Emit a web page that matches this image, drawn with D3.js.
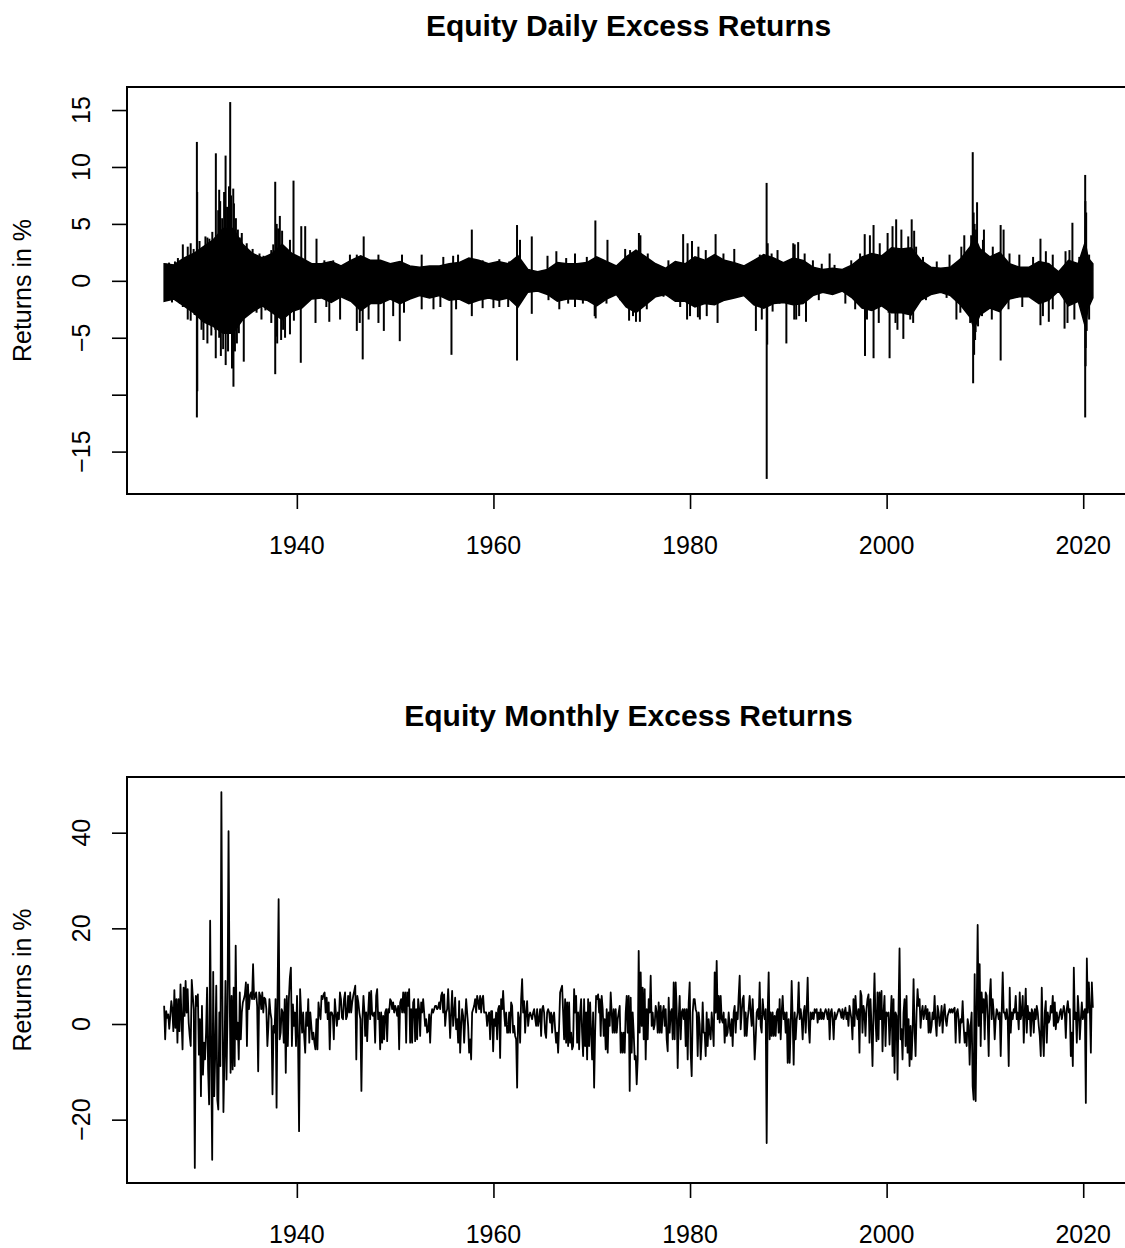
<!DOCTYPE html>
<html>
<head>
<meta charset="utf-8">
<script src="https://cdn.jsdelivr.net/npm/d3@7/dist/d3.min.js"></script>
<style>
  body { margin: 0; background: #fff; }
  text { font-family: "Liberation Sans", Arial, Helvetica, sans-serif; fill: #000; }
</style>
</head>
<body>
<div id="chart"></div>
<script>
// ---- axis ticks ----
const yearTicks = [1940, 1960, 1980, 2000, 2020];
const dailyTicks = [-15, -10, -5, 0, 5, 10, 15];
const dailyTickLabels = ["\u221215", "", "\u22125", "0", "5", "10", "15"];
const monthlyTicks = [-20, 0, 20, 40];
const monthlyTickLabels = ["\u221220", "0", "20", "40"];

// ---- daily returns: solid core of the band (upper / lower per year) ----
const dailyYear = [
  1926.5, 1927.5, 1928.5, 1929.5,
  1930.5, 1931.5, 1932.5, 1933.5, 1934.5, 1935.5, 1936.5, 1937.5, 1938.5, 1939.5,
  1940.5, 1941.5, 1942.5, 1943.5, 1944.5, 1945.5, 1946.5, 1947.5, 1948.5, 1949.5,
  1950.5, 1951.5, 1952.5, 1953.5, 1954.5, 1955.5, 1956.5, 1957.5, 1958.5, 1959.5,
  1960.5, 1961.5, 1962.5, 1963.5, 1964.5, 1965.5, 1966.5, 1967.5, 1968.5, 1969.5,
  1970.5, 1971.5, 1972.5, 1973.5, 1974.5, 1975.5, 1976.5, 1977.5, 1978.5, 1979.5,
  1980.5, 1981.5, 1982.5, 1983.5, 1984.5, 1985.5, 1986.5, 1987.5, 1988.5, 1989.5,
  1990.5, 1991.5, 1992.5, 1993.5, 1994.5, 1995.5, 1996.5, 1997.5, 1998.5, 1999.5,
  2000.5, 2001.5, 2002.5, 2003.5, 2004.5, 2005.5, 2006.5, 2007.5, 2008.5, 2008.9, 2009.5,
  2010.5, 2011.5, 2012.5, 2013.5, 2014.5, 2015.5, 2016.5, 2017.5, 2018.5, 2019.5,
  2020.2, 2020.5, 2020.98
];
const dailyUpper = [
  1.5, 1.4, 2.0, 2.4,
  3.0, 3.6, 4.6, 4.6, 3.2, 2.4, 2.0, 2.4, 3.2, 2.4,
  2.0, 1.5, 1.5, 1.7, 1.3, 1.8, 2.2, 1.8, 1.8, 1.5,
  1.7, 1.3, 1.2, 1.3, 1.3, 1.5, 1.6, 2.0, 1.8, 1.5,
  1.7, 1.5, 2.2, 1.0, 0.8, 1.0, 1.6, 1.5, 1.5, 1.6,
  2.1, 1.7, 1.3, 2.1, 2.7, 2.1, 1.5, 1.1, 1.7, 1.5,
  2.1, 1.8, 2.3, 1.8, 1.6, 1.3, 1.8, 2.3, 2.0, 1.6,
  2.0, 1.8, 1.2, 1.0, 1.1, 1.0, 1.4, 2.1, 2.4, 2.2,
  2.9, 2.8, 2.9, 1.8, 1.2, 1.1, 1.2, 1.9, 3.0, 4.0, 2.8,
  2.1, 2.5, 1.5, 1.2, 1.2, 1.7, 1.5, 0.8, 1.8, 1.5,
  3.4, 2.0, 1.5
];
const dailyLower = [
  -1.8, -1.6, -2.2, -2.8,
  -3.6, -4.0, -4.6, -4.6, -3.4, -2.7, -2.2, -2.8, -3.4, -2.7,
  -2.4, -1.6, -1.5, -1.9, -1.4, -1.8, -2.6, -2.0, -2.0, -1.6,
  -2.0, -1.6, -1.3, -1.5, -1.3, -1.7, -1.6, -2.0, -1.7, -1.5,
  -1.7, -1.5, -2.3, -1.0, -0.9, -1.2, -1.8, -1.6, -1.6, -1.7,
  -2.2, -1.6, -1.2, -2.3, -2.8, -2.1, -1.4, -1.2, -1.8, -1.8,
  -2.3, -2.0, -2.1, -1.7, -1.5, -1.3, -2.1, -2.4, -2.0, -1.9,
  -2.1, -2.0, -1.3, -1.0, -1.2, -0.9, -1.5, -2.4, -2.6, -2.2,
  -2.8, -2.8, -3.0, -1.7, -1.2, -1.0, -1.3, -2.1, -3.2, -4.2, -3.0,
  -2.4, -2.7, -1.6, -1.4, -1.4, -2.0, -1.7, -0.9, -2.2, -1.8,
  -4.0, -2.4, -1.5
];

// ---- daily returns: single days sticking out of the band [year, return %] ----
const dailySpikes = [
  [1926.6, -1.7], [1926.7, 1.5], [1927.0, 1.6], [1927.3, -1.9], [1927.6, 1.7], [1927.9, 2.0], [1928.1, -2.0],
  [1928.4, 3.2], [1928.4, -2.3], [1928.9, 3.0], [1928.9, -3.4], [1929.2, 3.3], [1929.2, -3.5], [1929.5, 2.8],
  [1929.6, -3.0], [1929.83, 12.2], [1929.83, -12.0], [1929.86, 7.8], [1929.87, -9.7],
  [1930.1, 3.5], [1930.3, -4.3], [1930.5, -5.2], [1930.7, 3.9], [1930.9, 3.8], [1930.9, -5.5], [1931.1, 3.7],
  [1931.3, -4.8], [1931.4, 4.3], [1931.7, -4.3], [1931.76, 11.2], [1931.75, -6.8],
  [1932.0, 6.2], [1932.1, 8.0], [1932.1, -5.0], [1932.2, 7.0], [1932.27, -6.6], [1932.4, 5.5], [1932.5, -6.0],
  [1932.6, 7.8], [1932.75, 11.0], [1932.76, -7.4], [1932.9, 6.5], [1933.0, -6.2], [1933.1, 8.3],
  [1933.22, 15.7], [1933.3, 7.5], [1933.4, -7.7], [1933.53, 8.1], [1933.55, -9.3], [1933.6, 6.8], [1933.7, -6.2],
  [1933.8, 5.5], [1933.9, -5.5], [1934.0, 4.5], [1934.1, -4.6], [1934.2, 3.8],
  [1934.3, -3.4], [1934.4, 4.2], [1934.6, -7.1], [1934.9, 3.3], [1935.2, 2.6], [1935.2, -2.5], [1935.5, 2.8],
  [1935.7, -2.0], [1935.9, -2.8], [1936.2, 2.4], [1936.4, -3.4], [1936.6, 2.2], [1936.8, -2.6],
  [1937.4, 2.7], [1937.4, -3.7], [1937.6, 3.2], [1937.8, 8.7], [1937.8, -8.2], [1937.9, -4.9], [1937.95, 5.0],
  [1938.0, -5.5], [1938.1, 4.6], [1938.27, 5.7], [1938.4, -5.2], [1938.5, 4.4], [1938.6, -4.3], [1938.8, -5.0],
  [1939.0, 2.6], [1939.3, 3.6], [1939.3, -4.7], [1939.66, 8.8], [1939.7, -3.5],
  [1940.4, -7.2], [1940.45, 4.8], [1940.85, 4.8], [1941.9, -3.7], [1942.0, 3.7], [1942.8, 1.8], [1943.0, -2.3],
  [1943.3, -3.6], [1943.7, 1.8], [1944.4, -3.4], [1945.4, 2.3], [1946.1, 2.3], [1946.1, -4.4], [1946.4, -3.7],
  [1946.7, -6.9], [1946.8, 3.9], [1947.3, -3.4], [1948.3, 2.3], [1948.3, -3.7], [1948.85, -4.4], [1949.8, -3.1],
  [1950.47, -5.3], [1950.7, 2.3], [1950.9, -2.8], [1952.7, 2.3], [1952.7, -2.5], [1953.9, -2.5], [1954.6, -2.3],
  [1954.9, 2.1], [1955.73, -6.5], [1955.9, 2.2], [1956.2, -2.5], [1956.4, 2.3], [1956.8, -1.4],
  [1957.8, 4.5], [1957.8, -3.1], [1958.9, 1.8], [1958.9, -2.4], [1960.0, -2.4], [1960.6, 1.9], [1960.6, -2.3],
  [1961.5, -2.3], [1961.6, 1.7], [1962.4, 4.9], [1962.4, -7.0], [1962.7, 3.6], [1963.9, 3.9], [1963.9, -2.9],
  [1965.5, 2.2], [1965.6, -1.7], [1966.4, 2.6], [1966.7, -2.5], [1967.4, 2.0], [1967.6, -2.0], [1968.3, 2.4],
  [1968.3, -2.3], [1969.1, -2.0], [1969.5, 2.1], [1970.3, -3.1], [1970.37, 5.3], [1970.4, -3.3], [1971.5, -2.0],
  [1971.6, 3.6], [1972.9, -1.7], [1973.4, 2.8], [1973.8, -3.5], [1973.9, 2.7], [1974.2, -3.1], [1974.5, -3.6],
  [1974.8, 4.2], [1974.9, -3.6], [1974.95, 4.0], [1975.6, -2.5], [1975.7, 2.4], [1977.3, -1.4], [1977.8, 1.8],
  [1979.0, -2.3], [1979.3, 4.1], [1979.7, -3.4], [1979.75, 3.3], [1980.0, -3.1], [1980.2, 3.5], [1980.8, -3.2],
  [1980.85, 3.0], [1981.0, -3.4], [1981.6, 2.7], [1981.7, -3.1], [1982.6, 4.1], [1982.7, -2.0], [1982.8, -3.7],
  [1983.4, 2.4], [1984.0, -1.5], [1984.5, 2.8], [1985.7, -1.1], [1986.7, -4.4], [1987.1, 2.3], [1987.3, -3.4],
  [1987.79, 8.6], [1987.8, -17.4], [1987.85, -5.6], [1987.9, 3.3], [1988.3, 2.4], [1988.4, -2.7], [1988.9, 2.7],
  [1989.1, -2.0], [1989.8, -5.5], [1990.5, 3.3], [1990.6, -3.4], [1990.65, 3.2], [1990.8, -3.4], [1991.0, 3.4],
  [1991.1, -3.1], [1991.66, 2.4], [1991.8, -3.6], [1992.5, 1.8], [1993.1, -1.7], [1993.4, 1.5], [1994.2, 2.4],
  [1994.7, 1.4], [1995.8, -2.0], [1996.4, 1.8], [1996.8, -2.5], [1997.3, 2.4], [1997.77, 4.1], [1997.8, -6.6],
  [1998.0, -3.4], [1998.3, 4.0], [1998.67, 4.9], [1998.67, -6.8], [1999.2, -3.7], [1999.3, 3.3], [2000.1, 4.2],
  [2000.2, -2.8], [2000.3, -6.8], [2000.6, 4.8], [2000.9, -3.7], [2000.97, 5.4], [2001.1, -4.3], [2001.5, 4.5],
  [2001.7, -5.1], [2002.2, 3.9], [2002.4, -3.4], [2002.55, 5.4], [2002.7, -3.7], [2002.8, 4.4], [2003.0, 3.0],
  [2003.7, 2.1], [2004.0, -1.7], [2005.1, 1.7], [2006.1, -1.5], [2006.4, 2.3], [2007.1, -3.4], [2007.5, -2.8],
  [2007.6, 3.0], [2007.9, 4.0], [2008.5, -3.7], [2008.6, 4.0], [2008.76, 11.3], [2008.8, -9.0], [2008.85, 6.0],
  [2008.9, -6.5], [2008.95, 5.0], [2009.0, -5.2], [2009.05, -4.5], [2009.1, 4.5], [2009.2, 6.9], [2009.3, -4.0],
  [2009.7, -3.1], [2009.8, 3.6], [2009.9, 4.5], [2010.7, -3.4], [2010.8, 3.0], [2011.6, 4.9], [2011.6, -7.0],
  [2011.9, 4.5], [2012.4, -2.5], [2012.5, 2.4], [2013.5, 2.3], [2013.8, -2.3], [2014.9, 2.1], [2015.65, 3.7],
  [2015.65, -3.9], [2015.9, -3.1], [2016.2, 2.6], [2016.5, -3.6], [2016.9, 2.3], [2016.9, -2.5], [2018.1, -4.2],
  [2018.2, 2.6], [2018.4, -3.7], [2018.6, 2.7], [2018.9, 5.1], [2019.1, -3.4], [2019.6, 2.1], [2020.2, 9.3],
  [2020.2, -12.0], [2020.22, 7.0], [2020.24, -7.5], [2020.25, -5.9], [2020.27, 4.8], [2020.3, 6.0],
  [2020.35, -4.4], [2020.6, -3.4], [2020.6, 2.3]
];

// ---- monthly returns, read left to right in four stretches ----
const monthlySpans = [[1926.5, 1946.88], [1946.95, 1970.75], [1970.81, 1995.12], [1995.2, 2020.98]];
const monthly1926to1946 = [
  3.8, -3.2, 2.7, 1.3, 2.0, -1.0, 1.7, 4.8, 3.0, -1.5, 7.1, -0.8, 5.2,
  -3.9, 5.2, -1.5, 8.3, 1.0, -5.3, 7.6, 1.7, 9.0, 2.4,
  7.3, 0.3, -2.5, -4.6, 9.2, 5.9, 3.1, -30.1, 5.9, 3.8,
  6.2, -6.4, 1.0, -15.1, 3.8, -10.6, -3.9, -7.4, -1.8, 7.6,
  -9.5, -16.8, 21.6, -6.0, -28.4, 10.9, -15.1, -6.0, 8.0, -15.8,
  -17.9, 2.4, -8.8, 48.5, 5.9, -18.4, -6.7, 9.0, -11.6, 2.4,
  40.3, 8.0, -10.2, 5.9, -9.5, 7.6, -8.8, 16.4, -3.2, 0.3,
  -7.4, 6.6, -3.2, 2.4, 4.5, 5.2, 6.2, 8.7, -4.6, 8.3,
  3.1, 5.9, 6.6, 5.2, 12.5, 5.2, 5.9, 6.6, 3.8, -9.9,
  6.6, 5.9, 3.1, 6.6, 2.4, 5.5, 5.2, 3.1, -4.6, -0.4,
  5.2, 2.4, 1.0, -14.7, -0.4, -1.8, 5.2, -17.5, 6.6, 26.1,
  -3.2, -1.8, 3.1, 2.4, -3.9, 5.2, -10.2, 5.9, -4.6, 5.2,
  9.7, 11.8, -4.6, 4.1, -0.4, 2.4, -4.6, 5.9, -3.2, -22.4,
  7.3, 2.4, -1.8, 2.4, -2.5, -6.0, 2.4, -0.4, 5.2, -3.9,
  2.4, -0.4, -3.2, -1.8, -3.9, -5.3, 1.0, -5.3, 4.5, 2.4,
  1.0, 5.9, 5.2, 6.2, 6.6, 2.4, 5.5, 1.0, 4.5, -5.3,
  2.4, 2.4, 1.7, -3.2, 5.2, 2.4, -0.4, 2.4, 1.0, 6.6,
  5.2, 1.3, 1.0, 5.2, 6.6, 1.0, 1.7, 5.9, 2.4, 6.6,
  2.4, 4.5, 5.9, 6.9, 8.0, -7.4, 5.9, 4.5, 2.4, 1.0,
  -14.0, 1.0, 5.9, 2.4
];
const monthly1947to1970 = [
  -2.5, 2.4, -3.6, 2.4, 6.6, 1.0, 6.9, 2.0, 1.7, 2.4,
  -3.9, 5.9, 7.3, 1.0, 2.4, -5.3, 2.4, -3.9, 1.7, -3.2,
  2.4, 3.1, -3.6, 3.1, 2.4, 5.2, 4.8, 3.1, 4.5, 2.4,
  3.8, 3.1, 1.7, 3.8, -5.3, 4.5, 5.2, 2.4, 6.6, 2.4,
  6.6, -3.9, 6.6, 3.8, 7.3, -3.9, 3.1, -3.9, 4.5, 5.2,
  -3.6, 3.1, -3.2, 5.2, 3.1, -2.5, 4.5, 2.4, 5.2, 2.4,
  -0.4, 1.0, -1.8, -1.5, 2.0, -3.9, 1.7, 3.1, 2.4, 3.1,
  3.8, 3.8, 3.1, 3.4, 4.5, 3.1, 5.9, 6.6, 2.4, 6.2,
  -0.4, 2.4, 3.1, 7.3, 2.4, -2.9, 2.4, 6.9, -0.4, 2.4,
  5.5, -1.1, 1.0, -3.9, 4.8, -6.0, -0.4, 3.1, 1.7, -3.9,
  1.0, 5.2, 2.4, -0.4, -6.0, -3.2, -7.4, 2.4, 3.1, 3.8,
  5.2, 2.4, 5.9, 4.8, 3.1, 5.9, 2.4, 5.2, 5.9, 2.4,
  2.4, 2.4, -0.4, 1.7, 2.4, -3.2, 2.7, 2.7, -5.7, 1.0,
  -0.4, 2.4, -3.2, 3.1, 3.8, -7.1, 5.2, 3.1, 6.9, 2.4,
  -0.4, 2.4, -1.8, -1.8, 2.4, -1.8, 4.5, 3.8, -1.8, -0.4,
  -2.5, -3.2, -13.3, 2.4, 1.0, -3.9, 5.2, 9.4, 2.4, 4.8,
  -1.8, 2.4, 4.8, -0.4, 1.7, 2.4, 1.7, 1.0, 2.4, 3.1,
  1.3, -0.4, 3.1, -0.4, 1.0, 3.1, -2.5, 3.1, 3.8, 2.4,
  -1.8, -2.9, 2.4, 3.1, 2.4, 0.3, 2.4, -1.8, 1.7, 2.4,
  -1.1, -3.9, -1.8, -6.0, -0.4, 6.6, 7.3, 8.0, 2.4, -3.2,
  5.2, -3.9, 4.5, -4.6, 4.5, -3.9, -1.8, -5.3, -4.6, 7.3,
  2.4, 5.9, -3.9, 2.4, -5.3, 2.4, 5.2, -1.8, -6.7, 5.2,
  -4.6, 2.4, -7.4, 5.2, -4.6, 4.5, -1.8, -7.4, 2.4, -13.3,
  -1.8, 5.9, 5.2, 6.2, 2.4
];
const monthly1971to1995 = [
  5.2, -2.5, 5.9, 3.1, -2.5, 1.0, -5.3, 3.1, -6.0, 2.4,
  -0.4, 6.6, 2.4, -1.8, 3.1, -1.8, 3.1, -1.8, 1.0, 2.4,
  3.8, -6.0, -1.8, -6.0, -1.8, -6.0, 2.4, 5.9, -1.8, 5.9,
  -14.0, 5.5, -6.0, 2.4, -1.8, -7.4, -6.7, -12.6, -7.4, 15.3,
  -1.8, 10.8, -0.4, 7.6, -3.2, 7.3, -7.4, 3.1, -3.2, 5.2,
  2.4, 10.1, -0.4, 2.4, -1.1, -0.1, 3.8, 2.4, -1.8, 4.5,
  -1.8, 3.8, -1.8, 2.4, 3.8, -0.4, 3.1, -3.2, -5.7, 5.5,
  -1.8, 2.4, 3.1, -3.2, 8.7, -3.2, 8.7, 3.1, -9.2, 1.0,
  5.9, -3.2, 2.4, 3.1, 1.0, 3.1, -4.6, 3.1, -7.4, 4.5,
  8.7, -6.0, -10.9, 2.4, 5.2, 5.2, 3.1, 2.4, -6.7, 2.4,
  -0.1, -7.4, -3.2, 4.5, -1.8, -1.8, -6.7, 2.4, -4.6, 1.0,
  -1.8, -3.2, 2.4, -0.4, -4.6, 10.8, 2.4, 13.2, 1.0, 5.9,
  0.3, 5.9, 1.0, 0.3, 2.4, -3.9, 1.0, -2.5, -1.8, 2.4,
  -0.4, -2.5, 1.0, -4.6, 2.4, 3.8, -1.8, 2.4, 1.0, 5.9,
  10.1, -1.1, 2.4, 5.2, 5.9, -2.5, 2.4, -2.5, 1.0, 3.1,
  5.9, 2.4, -0.4, 5.2, -0.4, -7.4, -3.2, 2.4, 3.1, 1.0,
  8.7, -0.4, -1.8, 5.2, 2.4, 1.0, 3.1, -24.9, 2.4, 10.8,
  -3.2, 2.4, -2.5, 2.4, -2.5, 1.7, -2.5, 2.4, 3.1, -1.8,
  5.2, -3.2, 2.4, 5.9, 1.0, 2.4, -1.8, 2.4, -8.1, 1.0,
  -8.1, -0.4, 9.0, 1.0, -8.5, 2.4, -3.2, 1.0, 2.4, 8.7,
  1.0, 3.1, 1.0, -3.2, 2.4, 3.8, -1.8, 3.1, 9.7, -0.4,
  -3.9, 2.4, 1.0, 2.4, 1.0, 3.1, 2.4, 3.1, 0.3, 2.4,
  1.0, 3.1, 1.0, 2.4, 1.0, 2.4, 3.1, 2.4, 1.0, 3.1,
  -3.2, 2.4, 3.1, 1.0, -3.2, 2.4, 1.0, 1.7, 2.4, 3.1
];
const monthly1995to2020 = [
  3.1, 2.4, 1.3, 3.1, 1.0, 2.4, 3.4, 1.0, 2.4, -0.4,
  3.8, 2.4, 1.0, -3.2, 5.2, -0.4, 5.9, 2.4, 1.0, 3.1,
  -6.0, 6.9, 5.9, -1.8, 3.8, 2.4, -2.5, 3.1, 5.2, 6.2,
  -3.9, 5.2, -0.4, -8.8, 2.4, 10.6, 1.0, -3.6, 6.6, -3.2,
  6.6, 1.0, 6.9, -5.7, 2.4, 5.9, -4.6, 2.4, 1.7, 2.4,
  -4.3, 1.0, 5.9, -6.7, 5.2, -10.2, 2.4, 1.7, -11.6, 3.1,
  15.8, -3.2, -1.1, -7.4, 2.4, 5.2, -4.6, 5.9, -6.0, 1.0,
  -8.8, -0.4, -7.4, -1.8, 9.4, -1.1, -6.7, 2.4, 7.3, 3.8,
  5.2, -0.8, 2.4, 3.8, 1.0, 2.4, 3.8, 1.0, 3.1, -1.8,
  2.4, -1.8, -0.4, 2.4, 1.0, 5.9, 0.3, -2.5, 3.8, 2.4,
  -0.4, 1.0, 3.8, -1.8, 2.4, 4.1, 1.0, -0.4, 1.7, 2.4,
  3.1, 2.4, 3.1, 2.4, 3.1, 3.4, -3.9, 2.4, 3.1, 1.0,
  -3.9, 1.0, 0.3, 4.8, -0.4, -3.9, -1.8, -4.6, 1.0, -0.4,
  -8.5, -0.4, 2.4, -13.0, -15.8, 10.4, -16.1, 2.4, 20.7, -0.4,
  12.5, -4.6, 6.6, 2.4, 5.2, -3.2, 6.6, 5.9, 1.0, -6.7,
  5.9, 9.4, 1.0, 5.2, 2.4, -3.2, 1.0, 3.1, 2.4, 1.0,
  2.4, -6.7, 2.4, 10.8, 2.4, 2.4, 1.0, 3.1, 1.0, -8.8,
  7.6, -1.8, 2.4, 1.0, 3.1, 2.4, 5.9, 1.0, 2.4, -1.1,
  6.6, 1.0, 2.4, 5.9, -3.9, 2.4, 7.4, -1.8, 3.8, 1.0,
  2.4, -2.5, 3.1, 2.4, -1.8, 3.1, 1.0, 3.8, 2.4, -0.4,
  -2.5, -6.7, 7.6, -1.8, -6.7, 2.4, 4.8, -3.9, 2.4, 0.3,
  1.0, 3.8, 2.4, 5.9, -0.4, 4.5, -1.1, 2.4, 0.3, 1.0,
  2.4, 3.1, 1.0, 2.4, 3.8, 2.4, -2.9, 3.1, 4.8, 2.4,
  3.1, -6.7, -1.8, -8.8, 11.8, 1.0, 2.4, -3.9, 5.9, 2.4,
  -3.2, 1.0, 4.5, 1.0, 2.4, 3.1, -16.5, 13.7, 2.4, 8.7,
  3.1, -6.0, 8.7, 3.4
];

// ---- layout (base R look) ----
const W = 1125, H = 1248;
const left = 127, right = 1130;   // right edge of the box falls just outside the picture
const panels = [
  { title: "Equity Daily Excess Returns", top: 87, bottom: 494, ticks: dailyTicks, labels: dailyTickLabels },
  { title: "Equity Monthly Excess Returns", top: 777, bottom: 1183, ticks: monthlyTicks, labels: monthlyTickLabels }
];

const svg = d3.select("#chart").append("svg")
  .attr("width", W).attr("height", H)
  .attr("viewBox", `0 0 ${W} ${H}`);
svg.append("rect").attr("width", W).attr("height", H).attr("fill", "#fff");

// monthly points: readings spread evenly over each stretch
const monthly = [];
[monthly1926to1946, monthly1947to1970, monthly1971to1995, monthly1995to2020].forEach((vals, k) => {
  const [a, b] = monthlySpans[k];
  vals.forEach((v, i) => monthly.push([a + (b - a) * i / (vals.length - 1), v]));
});

// R style 4% padding on each side
function pad(ext) {
  const d = (ext[1] - ext[0]) * 0.04;
  return [ext[0] - d, ext[1] + d];
}
const xDomain = pad(d3.extent(monthly, d => d[0]));
const x = d3.scaleLinear().domain(xDomain).range([left, right]);

const dailyExt = [
  d3.min([d3.min(dailyLower), d3.min(dailySpikes, d => d[1])]),
  d3.max([d3.max(dailyUpper), d3.max(dailySpikes, d => d[1])])
];
const yDaily = d3.scaleLinear().domain(pad(dailyExt)).range([panels[0].bottom, panels[0].top]);
const yMonthly = d3.scaleLinear().domain(pad(d3.extent(monthly, d => d[1]))).range([panels[1].bottom, panels[1].top]);
const yScales = [yDaily, yMonthly];

function drawFrame(p, y) {
  const g = svg.append("g");
  const mid = (left + right) / 2;

  g.append("text")
    .attr("x", mid).attr("y", p.top - 51)
    .attr("text-anchor", "middle")
    .style("font-size", "30px").style("font-weight", "bold")
    .text(p.title);

  // y axis
  const yAxis = g.append("g").attr("transform", `translate(${left},0)`)
    .call(d3.axisLeft(y).tickValues(p.ticks).tickSize(15).tickFormat(""));
  yAxis.select(".domain").remove();
  yAxis.selectAll("line").attr("stroke", "#000").attr("stroke-width", 1.6);
  p.ticks.forEach((t, i) => {
    if (!p.labels[i]) return;
    g.append("text")
      .attr("transform", `translate(90,${y(t)}) rotate(-90)`)
      .attr("text-anchor", "middle")
      .style("font-size", "25px")
      .text(p.labels[i]);
  });
  g.append("text")
    .attr("transform", `translate(31,${(p.top + p.bottom) / 2}) rotate(-90)`)
    .attr("text-anchor", "middle")
    .style("font-size", "25px")
    .text("Returns in %");

  // x axis
  const xAxis = g.append("g").attr("transform", `translate(0,${p.bottom})`)
    .call(d3.axisBottom(x).tickValues(yearTicks).tickSize(15).tickFormat(""));
  xAxis.select(".domain").remove();
  xAxis.selectAll("line").attr("stroke", "#000").attr("stroke-width", 1.6);
  yearTicks.forEach(t => {
    g.append("text")
      .attr("x", x(t)).attr("y", p.bottom + 60)
      .attr("text-anchor", "middle")
      .style("font-size", "25px")
      .text(t);
  });

  // box
  g.append("rect")
    .attr("x", left).attr("y", p.top)
    .attr("width", right - left).attr("height", p.bottom - p.top)
    .attr("fill", "none").attr("stroke", "#000").attr("stroke-width", 2);
}

panels.forEach((p, i) => drawFrame(p, yScales[i]));

// daily band
const band = dailyYear.map((t, i) => [t, dailyUpper[i], dailyLower[i]]);
svg.append("path")
  .datum(band)
  .attr("fill", "#000")
  .attr("stroke", "#000")
  .attr("stroke-width", 1.5)
  .attr("d", d3.area().x(d => x(d[0])).y0(d => yDaily(d[2])).y1(d => yDaily(d[1])));

// daily spikes
svg.append("g").selectAll("line")
  .data(dailySpikes)
  .join("line")
  .attr("x1", d => x(d[0])).attr("x2", d => x(d[0]))
  .attr("y1", yDaily(0)).attr("y2", d => yDaily(d[1]))
  .attr("stroke", "#000").attr("stroke-width", 2);

// monthly line
svg.append("path")
  .datum(monthly)
  .attr("fill", "none")
  .attr("stroke", "#000")
  .attr("stroke-width", 1.8)
  .attr("stroke-linejoin", "round")
  .attr("d", d3.line().x(d => x(d[0])).y(d => yMonthly(d[1])));
</script>
</body>
</html>
